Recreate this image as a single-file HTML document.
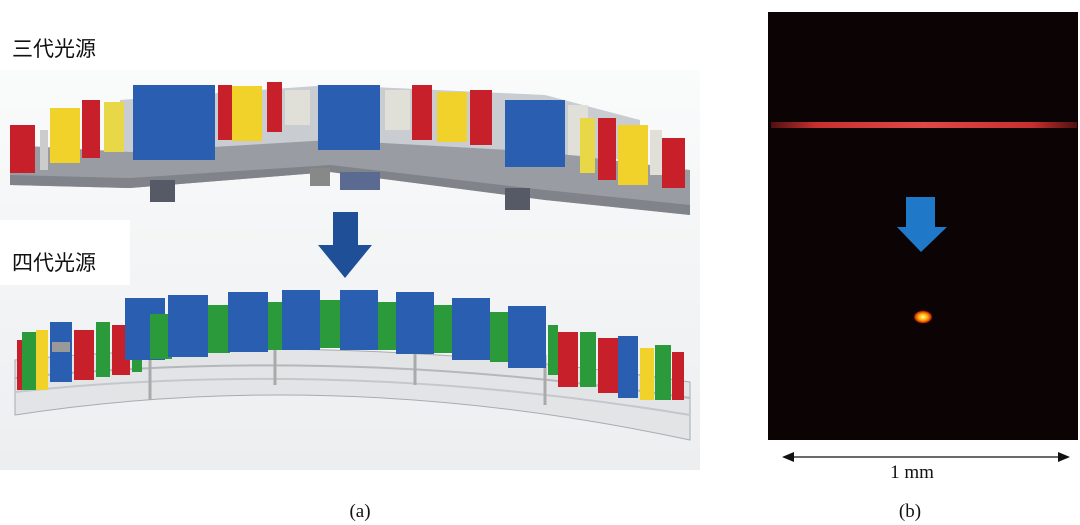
<!DOCTYPE html>
<html><head><meta charset="utf-8"><style>
html,body{margin:0;padding:0;background:#fff;width:1080px;height:525px;overflow:hidden}
svg{display:block}
text{font-family:"Liberation Serif","Noto Serif CJK SC",serif}
.cjk{font-family:"Liberation Sans","Noto Sans CJK SC",sans-serif}
</style></head><body>
<svg width="1080" height="525" viewBox="0 0 1080 525" xmlns="http://www.w3.org/2000/svg">
<defs>
<radialGradient id="spot"><stop offset="0" stop-color="#fff6a0"/><stop offset="0.45" stop-color="#ffb000"/><stop offset="0.8" stop-color="#d03010"/><stop offset="1" stop-color="#300" stop-opacity="0"/></radialGradient>
<linearGradient id="line" x1="0" x2="1"><stop offset="0" stop-color="#501010"/><stop offset="0.15" stop-color="#c83030"/><stop offset="0.5" stop-color="#e04848"/><stop offset="0.85" stop-color="#c83030"/><stop offset="1" stop-color="#501010"/></linearGradient>
<linearGradient id="bg" x1="0" x2="0" y1="0" y2="1"><stop offset="0" stop-color="#fafbfb"/><stop offset="1" stop-color="#eceef0"/></linearGradient>
</defs>
<rect x="0" y="70" width="700" height="400" fill="url(#bg)"/>
<rect x="0" y="220" width="130" height="65" fill="#fff"/>
<text x="12" y="56" class="cjk" font-size="21" fill="#111">三代光源</text>
<text x="12" y="270" class="cjk" font-size="21" fill="#111">四代光源</text>
<!-- upper backplate -->
<polygon points="120,100 330,85 545,95 640,120 640,160 330,150 120,160" fill="#c9ccd0"/>
<!-- upper girder -->
<polygon points="10,145 130,152 330,140 545,152 690,170 690,215 545,200 330,172 130,188 10,185" fill="#999ca2"/>
<polygon points="10,175 130,178 330,165 545,190 690,205 690,215 545,200 330,172 130,188 10,185" fill="#80838a"/>
<rect x="150" y="180" width="25" height="22" fill="#555a66"/>
<rect x="505" y="188" width="25" height="22" fill="#555a66"/>
<rect x="310" y="168" width="20" height="18" fill="#888"/>
<rect x="340" y="172" width="40" height="18" fill="#5a6a90"/>
<!-- upper magnets -->
<g>
<rect x="10" y="125" width="25" height="48" fill="#c8202a"/>
<rect x="40" y="130" width="8" height="40" fill="#ccc"/>
<rect x="50" y="108" width="30" height="55" fill="#f1d22a"/>
<rect x="82" y="100" width="18" height="58" fill="#c8202a"/>
<rect x="104" y="102" width="20" height="50" fill="#e8d848"/>
<rect x="133" y="85" width="82" height="75" fill="#2a5eb0"/>
<rect x="218" y="85" width="14" height="55" fill="#c8202a"/>
<rect x="232" y="86" width="30" height="55" fill="#f1d22a"/>
<rect x="267" y="82" width="15" height="50" fill="#c8202a"/>
<rect x="285" y="90" width="25" height="35" fill="#e0e0d8"/>
<rect x="318" y="85" width="62" height="65" fill="#2a5eb0"/>
<rect x="385" y="90" width="25" height="40" fill="#e0e0d8"/>
<rect x="412" y="85" width="20" height="55" fill="#c8202a"/>
<rect x="437" y="92" width="30" height="50" fill="#f1d22a"/>
<rect x="470" y="90" width="22" height="55" fill="#c8202a"/>
<rect x="505" y="100" width="60" height="67" fill="#2a5eb0"/>
<rect x="568" y="105" width="20" height="50" fill="#e0e0d8"/>
<rect x="580" y="118" width="15" height="55" fill="#e8d848"/>
<rect x="598" y="118" width="18" height="62" fill="#c8202a"/>
<rect x="618" y="125" width="30" height="60" fill="#f1d22a"/>
<rect x="650" y="130" width="12" height="45" fill="#e0e0d8"/>
<rect x="662" y="138" width="23" height="50" fill="#c8202a"/>
</g>
<!-- blue arrow left -->
<polygon points="333,212 358,212 358,245 372,245 345,278 318,245 333,245" fill="#1f4f96"/>
<!-- lower girder -->
<path d="M15,360 Q340,330 690,382 L690,440 Q340,365 15,415 Z" fill="#e2e4e6" stroke="#a8abb0"/>
<path d="M15,378 Q340,345 690,398" fill="none" stroke="#b4b7bc" stroke-width="2"/>
<path d="M15,392 Q340,357 690,415" fill="none" stroke="#c4c7cc" stroke-width="2"/>
<line x1="150" y1="352" x2="150" y2="400" stroke="#aaa" stroke-width="3"/>
<line x1="275" y1="345" x2="275" y2="385" stroke="#aaa" stroke-width="3"/>
<line x1="415" y1="347" x2="415" y2="385" stroke="#aaa" stroke-width="3"/>
<line x1="545" y1="355" x2="545" y2="405" stroke="#aaa" stroke-width="3"/>
<!-- lower magnets -->
<g>
<rect x="17" y="340" width="10" height="50" fill="#c8202a"/>
<rect x="22" y="332" width="14" height="58" fill="#2a9a3a"/>
<rect x="36" y="330" width="12" height="60" fill="#f1d22a"/>
<rect x="50" y="322" width="22" height="60" fill="#2a5eb0"/>
<rect x="52" y="342" width="18" height="10" fill="#999"/>
<rect x="74" y="330" width="20" height="50" fill="#c8202a"/>
<rect x="96" y="322" width="14" height="55" fill="#2a9a3a"/>
<rect x="112" y="325" width="18" height="50" fill="#c8202a"/>
<rect x="132" y="322" width="10" height="50" fill="#2a9a3a"/>
<rect x="125" y="298" width="40" height="62" fill="#2a5eb0"/>
<rect x="150" y="314" width="22" height="45" fill="#2a9a3a"/>
<rect x="168" y="295" width="40" height="62" fill="#2a5eb0"/>
<rect x="208" y="305" width="22" height="48" fill="#2a9a3a"/>
<rect x="228" y="292" width="40" height="60" fill="#2a5eb0"/>
<rect x="268" y="302" width="22" height="48" fill="#2a9a3a"/>
<rect x="282" y="290" width="38" height="60" fill="#2a5eb0"/>
<rect x="320" y="300" width="22" height="48" fill="#2a9a3a"/>
<rect x="340" y="290" width="38" height="60" fill="#2a5eb0"/>
<rect x="378" y="302" width="22" height="48" fill="#2a9a3a"/>
<rect x="396" y="292" width="38" height="62" fill="#2a5eb0"/>
<rect x="434" y="305" width="22" height="48" fill="#2a9a3a"/>
<rect x="452" y="298" width="38" height="62" fill="#2a5eb0"/>
<rect x="490" y="312" width="22" height="50" fill="#2a9a3a"/>
<rect x="508" y="306" width="38" height="62" fill="#2a5eb0"/>
<rect x="548" y="325" width="10" height="50" fill="#2a9a3a"/>
<rect x="558" y="332" width="20" height="55" fill="#c8202a"/>
<rect x="580" y="332" width="16" height="55" fill="#2a9a3a"/>
<rect x="598" y="338" width="20" height="55" fill="#c8202a"/>
<rect x="618" y="336" width="20" height="62" fill="#2a5eb0"/>
<rect x="640" y="348" width="14" height="52" fill="#f1d22a"/>
<rect x="655" y="345" width="16" height="55" fill="#2a9a3a"/>
<rect x="672" y="352" width="12" height="48" fill="#c8202a"/>
</g>
<!-- right panel -->
<rect x="768" y="12" width="310" height="428" fill="#0c0404"/>
<rect x="771" y="122" width="306" height="6" fill="url(#line)"/>
<polygon points="906,197 935,197 935,227 947,227 921,252 897,227 906,227" fill="#1f78c8"/>
<ellipse cx="923" cy="317" rx="10" ry="7" fill="url(#spot)"/>
<line x1="786" y1="457" x2="1066" y2="457" stroke="#111" stroke-width="1.3"/>
<polygon points="782,457 794,452 794,462" fill="#111"/>
<polygon points="1070,457 1058,452 1058,462" fill="#111"/>
<text x="912" y="478" font-size="19" text-anchor="middle" fill="#111">1 mm</text>
<text x="360" y="517" font-size="19" text-anchor="middle" fill="#111">(a)</text>
<text x="910" y="517" font-size="19" text-anchor="middle" fill="#111">(b)</text>
</svg>
</body></html>
